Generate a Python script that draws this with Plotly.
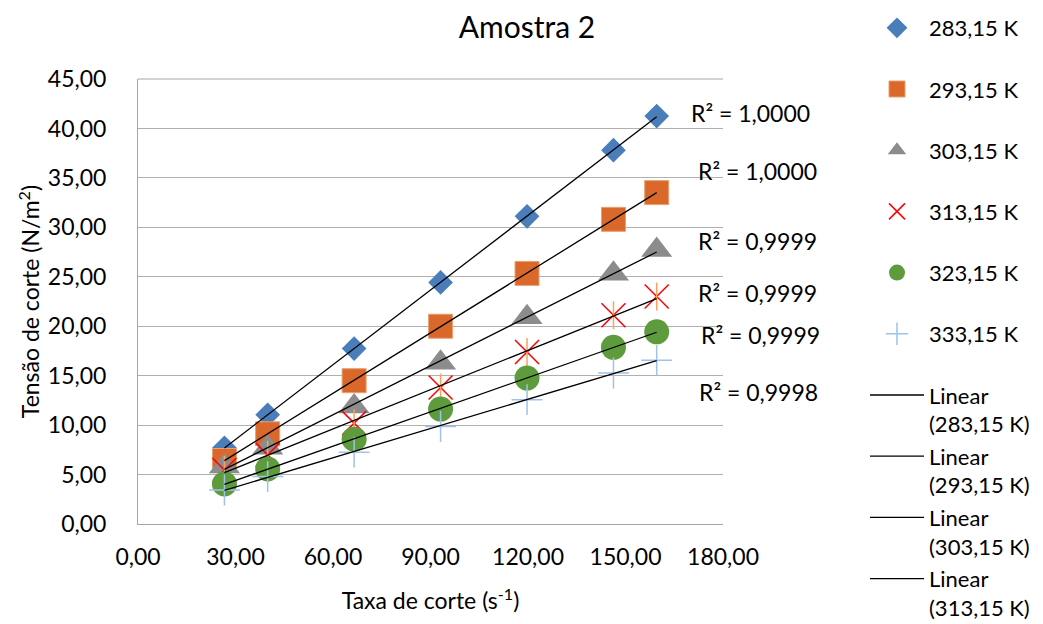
import numpy as np
import plotly.graph_objects as go

# ---- data ----
shear_rate = [26.6, 39.9, 66.5, 93.1, 119.7, 146.3, 159.6]
series_names = ["283,15 K", "293,15 K", "303,15 K", "313,15 K", "323,15 K", "333,15 K"]
s283 = [7.70, 11.05, 17.74, 24.43, 31.11, 37.80, 41.25]
s293 = [6.42, 9.12, 14.49, 20.00, 25.34, 30.81, 33.51]
s303 = [5.81, 7.70, 11.89, 16.30, 20.90, 25.30, 27.70]
s313 = [5.47, 6.99, 10.20, 13.80, 17.40, 21.10, 23.00]
s323 = [4.05, 5.57, 8.58, 11.62, 14.76, 17.87, 19.43]
s333 = [3.44, 4.80, 7.26, 9.86, 12.57, 15.27, 16.55]
r2_labels = ["R² = 1,0000", "R² = 1,0000", "R² = 0,9999", "R² = 0,9999", "R² = 0,9999", "R² = 0,9998"]
x_ticks = [0, 30, 60, 90, 120, 150, 180]
y_ticks = [0, 5, 10, 15, 20, 25, 30, 35, 40, 45]

all_series = [s283, s293, s303, s313, s323, s333]

# ---- styles ----
FONT = "Lato"
styles = [
    dict(symbol="diamond", size=19, color="#4A7EBB", line=dict(width=0)),
    dict(symbol="square", size=24, color="#D9682A", line=dict(width=1, color="#E8A070")),
    dict(symbol="triangle-up", size=27, color="#8C8C8C", line=dict(width=0)),
    dict(symbol="x-thin-open", size=24, color="#FF0000", line=dict(width=1.5, color="#FF0000")),
    dict(symbol="circle", size=25, color="#5E9B3C", line=dict(width=0)),
    dict(symbol="cross-thin-open", size=22, color="#9DC3E6", line=dict(width=1.5, color="#9DC3E6")),
]
r2_pos = [(750, 113), (757, 171), (757, 241), (757, 293), (760, 335), (758, 392)]
PL, PR, PT, PB = 138, 723, 79, 524
W, H = 1043, 624

fig = go.Figure()
for i, (name, ys) in enumerate(zip(series_names, all_series)):
    fig.add_trace(go.Scatter(x=shear_rate, y=ys, mode="markers", name=name + "<br>\u00a0",
                             legendgroup="g%d" % i, marker=styles[i]))
    if i == 3:
        fig.add_trace(go.Scatter(x=shear_rate, y=ys, mode="markers", showlegend=False,
                                 legendgroup="g%d" % i, hoverinfo="skip",
                                 marker=dict(symbol="line-ns-open", size=20,
                                             line=dict(width=1.5, color="#FF0000"))))

xs = np.array(shear_rate)
for i, (name, ys) in enumerate(zip(series_names, all_series)):
    m, b = np.polyfit(xs, np.array(ys), 1)
    xx = np.array([xs[0], xs[-1]])
    fig.add_trace(go.Scatter(x=xx, y=m * xx + b, mode="lines", name="Linear<br>(" + name + ")",
                             legendgroup="L%d" % i, showlegend=(i < 4),
                             line=dict(color="black", width=1.3), hoverinfo="skip"))

for txt, (px, py) in zip(r2_labels, r2_pos):
    fig.add_annotation(text=txt, xref="paper", yref="paper",
                       x=(px - PL) / (PR - PL), y=(PB - py) / (PB - PT),
                       showarrow=False, xanchor="center", yanchor="middle",
                       font=dict(family=FONT, size=23, color="black"))

fig.update_layout(
    width=W, height=H,
    margin=dict(l=PL, r=W - PR, t=PT, b=H - PB),
    paper_bgcolor="white", plot_bgcolor="white",
    separators=", ",
    font=dict(family=FONT, size=23, color="black"),
    title=dict(text="Amostra 2", x=527 / W, xanchor="center", y=1 - 27 / H, yanchor="middle",
               xref="container", yref="container", font=dict(family=FONT, size=30, color="black")),
    legend=dict(xref="container", yref="container", x=865 / W, y=1 - 7 / H,
                xanchor="left", yanchor="top", itemwidth=54, valign="top",
                tracegroupgap=1, maxheight=900, font=dict(family=FONT, size=22, color="black"),
                bgcolor="rgba(0,0,0,0)", borderwidth=0),
    showlegend=True,
)
fig.update_xaxes(range=[0, 180], tickvals=x_ticks, tickformat=".2f", showgrid=False,
                 showline=True, linecolor="#A6A6A6", linewidth=1, zeroline=False,
                 ticks="", ticklabelstandoff=12,
                 title=dict(text="Taxa de corte (s<sup>-1</sup>)", standoff=24,
                            font=dict(family=FONT, size=23)))
fig.update_yaxes(range=[0, 45], tickvals=y_ticks, tickformat=".2f", showgrid=True,
                 gridcolor="#B0B0B0", gridwidth=1, showline=True, linecolor="#A6A6A6",
                 linewidth=1, zeroline=False, ticks="", ticklabelstandoff=26,
                 title=dict(text="Tensão de corte (N/m<sup>2</sup>)", standoff=1,
                            font=dict(family=FONT, size=23)))
fig.add_shape(type="line", xref="paper", yref="paper", x0=0, x1=1, y0=1, y1=1,
              line=dict(color="#A6A6A6", width=1), layer="below")

fig.write_html("out.html")
